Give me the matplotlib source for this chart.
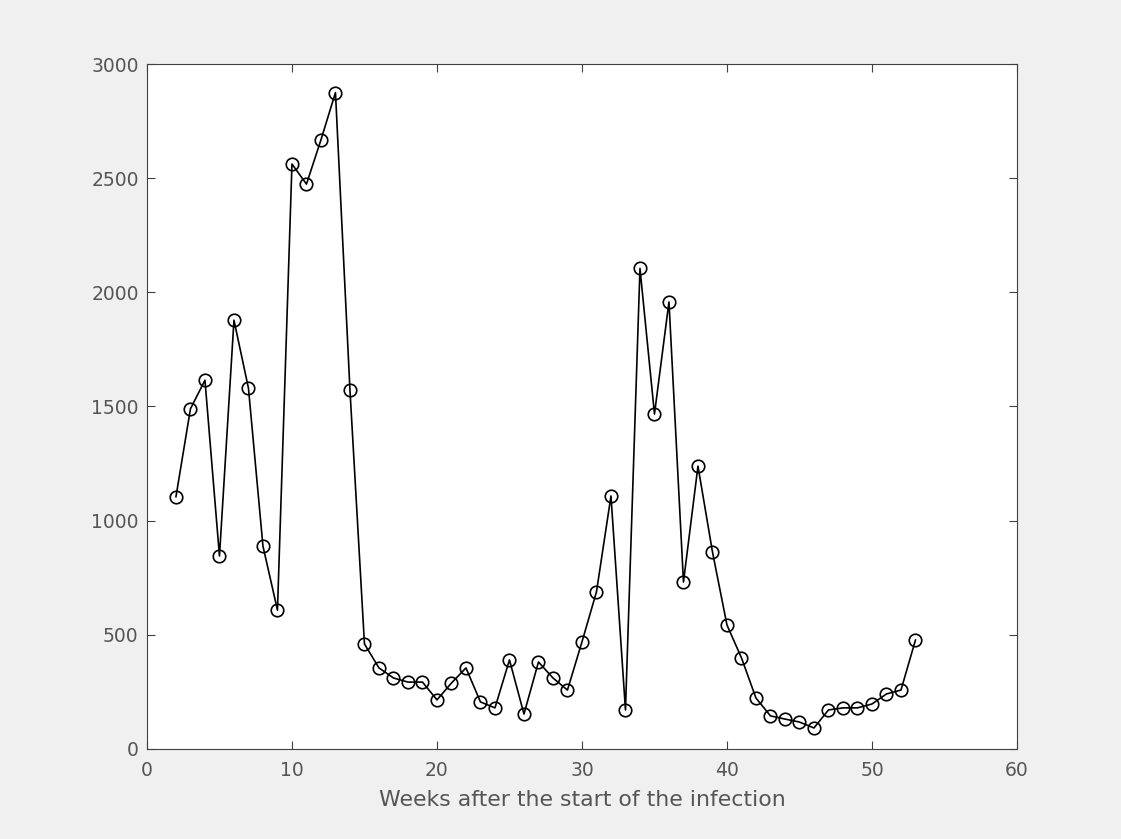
import matplotlib
matplotlib.use("Agg")
import matplotlib.pyplot as plt

# weekly counts
weeks = list(range(2, 54))
cases = [1105, 1490, 1615, 845, 1878, 1580, 888, 608, 2562, 2474,
         2668, 2875, 1572, 460, 355, 311, 293, 293, 215, 289,
         355, 206, 180, 390, 153, 381, 311, 258, 469, 688,
         1108, 171, 2105, 1467, 1958, 731, 1239, 863, 543, 399,
         223, 145, 131, 118, 92, 171, 180, 180, 197, 241,
         258, 477]

xticks = [0, 10, 20, 30, 40, 50, 60]
yticks = [0, 500, 1000, 1500, 2000, 2500, 3000]

plt.rcParams['font.family'] = ['DejaVu Sans']
dark = '#404040'
txt = '#555555'

fig = plt.figure(figsize=(11.21, 8.39), dpi=100, facecolor='#f0f0f0')
ax = fig.add_axes([0.1311, 0.1073, 0.7761, 0.8164])
ax.set_facecolor('white')

ax.plot(weeks, cases, color='black', linewidth=1.2, marker='o',
        markersize=9, markerfacecolor='none', markeredgecolor='black',
        markeredgewidth=1.2)

ax.set_xlim(0, 60)
ax.set_ylim(0, 3000)
ax.set_xticks(xticks)
ax.set_yticks(yticks)
ax.tick_params(direction='in', top=True, right=True, length=6,
               width=0.8, color=dark, labelcolor=txt, labelsize=13.5)
ax.tick_params(axis='x', pad=9)
ax.tick_params(axis='y', pad=6)
for s in ax.spines.values():
    s.set_color(dark)
    s.set_linewidth(0.8)

ax.set_xlabel('Weeks after the start of the infection', fontsize=15.8,
              color=txt, labelpad=7)

fig.savefig('out.png', dpi=100, facecolor=fig.get_facecolor())
